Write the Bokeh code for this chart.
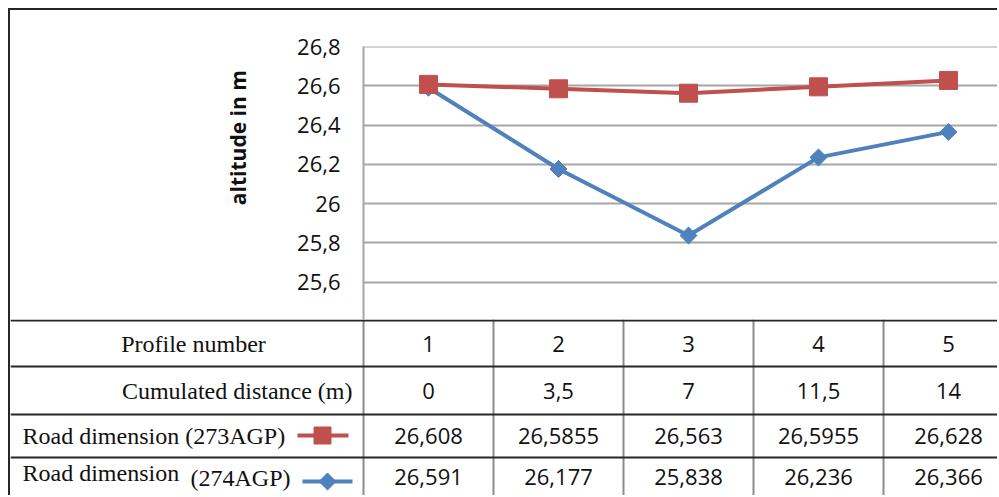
from bokeh.plotting import figure
from bokeh.models import Range1d, FixedTicker, CustomJSTickFormatter, ColumnDataSource
from bokeh.core.properties import value
from bokeh.embed import file_html
from bokeh.resources import INLINE

# ---- data ----
profiles = [1, 2, 3, 4, 5]
distances = [0, 3.5, 7, 11.5, 14]
road_273 = [26.608, 26.5855, 26.563, 26.5955, 26.628]
road_274 = [26.591, 26.177, 25.838, 26.236, 26.366]
y_ticks = [25.6, 25.8, 26.0, 26.2, 26.4, 26.6, 26.8]
y_label = "altitude in m"
row_labels = ["Profile number", "Cumulated distance (m)", "Road dimension (273AGP)", "Road dimension"]
label_274_suffix = "(274AGP)"

RED = "#C0504D"
BLUE = "#4F81BD"
GRID = "#a6a6a6"
DARK = "#262626"
SANS = "Open Sans"
SERIF = "Liberation Serif"

W = 989
CHART_H = 311
TABLE_H = 176
LEFT = 353
COL = 130.0
x0 = 0.5
x_end = x0 + (W - LEFT) / COL

# ---- chart ----
p = figure(width=W, height=CHART_H, output_backend="svg", toolbar_location=None,
           x_range=Range1d(x0, x_end), y_range=Range1d(25.4, 26.801),
           x_axis_location=None, min_border_left=LEFT, min_border_right=0,
           min_border_top=36, min_border_bottom=0)
p.styles = {"margin-left": "8px", "margin-top": "8px",
            "border-left": f"2px solid {DARK}", "border-top": f"2px solid {DARK}"}
p.outline_line_color = None
p.xgrid.visible = False
p.ygrid.ticker = FixedTicker(ticks=y_ticks)
p.ygrid.grid_line_color = GRID
p.ygrid.grid_line_width = 2
ax = p.yaxis[0]
ax.ticker = FixedTicker(ticks=y_ticks)
ax.formatter = CustomJSTickFormatter(code="return tick.toFixed(1).replace('.', ',').replace(/,0$/, '');")
ax.major_tick_line_color = None
ax.minor_tick_line_color = None
ax.major_tick_out = 0
ax.major_label_standoff = 23
ax.major_label_text_font = SANS
ax.major_label_text_font_size = "22px"
ax.major_label_text_color = "#111111"
ax.axis_line_color = GRID
ax.axis_line_width = 2
# the original title sits in the upper part of the axis: pad its start with no-break spaces
ax.axis_label = "\u00a0" * 17 + y_label
ax.axis_label_text_font = SANS
ax.axis_label_text_font_style = "bold"
ax.axis_label_text_font_size = "21px"
ax.axis_label_text_color = "#111111"
ax.axis_label_standoff = 42

src = ColumnDataSource(dict(x=profiles, r273=road_273, r274=road_274))
p.line("x", "r274", source=src, line_color=BLUE, line_width=4)
p.scatter("x", "r274", source=src, marker="square", angle=0.785398, size=12,
          fill_color=BLUE, line_color=BLUE)
p.line("x", "r273", source=src, line_color=RED, line_width=4)
p.scatter("x", "r273", source=src, marker="square", size=18, fill_color=RED, line_color=RED)

# ---- table ----
tx0 = x0 - LEFT / COL
t = figure(width=W, height=TABLE_H, output_backend="svg", toolbar_location=None,
           x_range=Range1d(tx0, x_end), y_range=Range1d(TABLE_H, 0),
           x_axis_location=None, y_axis_location=None,
           min_border_left=0, min_border_right=0, min_border_top=0, min_border_bottom=0)
t.styles = {"margin-left": "8px", "border-left": f"2px solid {DARK}"}
t.outline_line_color = None
t.grid.visible = False

def px(v):
    return tx0 + v / COL

row_bounds = [1, 47, 95, 138]
row_mid = [24, 71, 116, 157]

# vertical gray lines
vx = [x0 + i for i in range(6)]
t.segment(x0=vx, y0=[0] * 6, x1=vx, y1=[TABLE_H] * 6, line_color="#8c8c8c", line_width=2)
# horizontal dark lines
t.segment(x0=[tx0] * 4, y0=row_bounds, x1=[x_end] * 4, y1=row_bounds, line_color=DARK, line_width=2)

def cells(vals, row):
    t.text(x=profiles, y=[row_mid[row]] * len(vals), text=[f"{v:g}".replace(".", ",") for v in vals],
           text_font=value(SANS), text_font_size="22px", text_align="center",
           text_baseline="middle", text_color="#111111")

cells(profiles, 0)
cells(distances, 1)
cells(road_273, 2)
cells(road_274, 3)

serif = dict(text_font=value(SERIF), text_font_size="24px", text_baseline="middle", text_color="#111111")
t.text(x=[px(183)], y=[row_mid[0]], text=[row_labels[0]], text_align="center", **serif)
t.text(x=[px(342)], y=[row_mid[1]], text=[row_labels[1]], text_align="right", **serif)
t.text(x=[px(12)], y=[row_mid[2]], text=[row_labels[2]], text_align="left", **serif)
t.text(x=[px(12)], y=[row_mid[3] - 4], text=[row_labels[3]], text_align="left", **serif)
t.text(x=[px(180)], y=[row_mid[3] + 1], text=[label_274_suffix], text_align="left", **serif)

# legend keys
t.segment(x0=[px(287)], y0=[row_mid[2]], x1=[px(338)], y1=[row_mid[2]], line_color=RED, line_width=4)
t.scatter(x=[px(312)], y=[row_mid[2]], marker="square", size=17, fill_color=RED, line_color=RED)
t.segment(x0=[px(292)], y0=[row_mid[3] + 5], x1=[px(342)], y1=[row_mid[3] + 5], line_color=BLUE, line_width=4)
t.scatter(x=[px(317)], y=[row_mid[3] + 5], marker="square", angle=0.785398, size=12,
          fill_color=BLUE, line_color=BLUE)

open("out.html", "w").write(file_html([p, t], INLINE))
